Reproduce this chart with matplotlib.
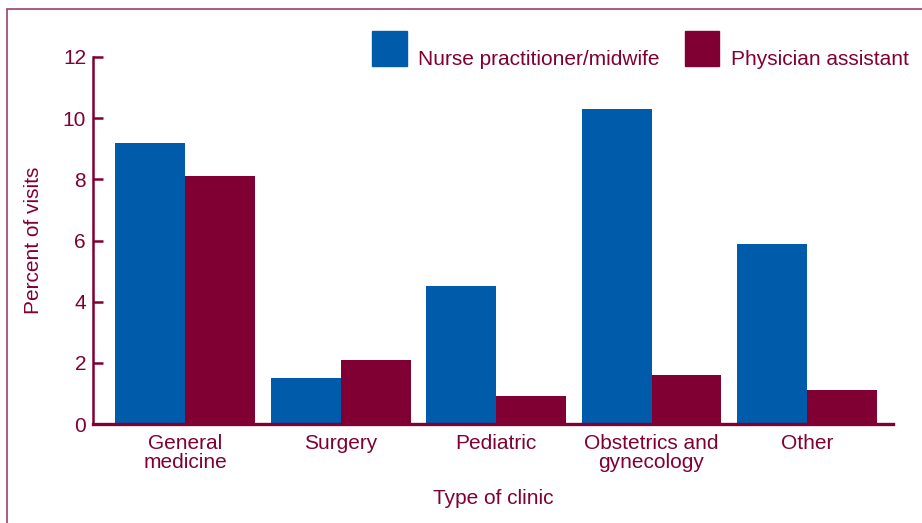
import numpy as np
import matplotlib.pyplot as plt
from matplotlib.patches import Rectangle

clinics = ["General\nmedicine", "Surgery", "Pediatric", "Obstetrics and\ngynecology", "Other"]
nurse = [9.2, 1.5, 4.5, 10.3, 5.9]
physician = [8.1, 2.1, 0.9, 1.6, 1.1]
yticks = [0, 2, 4, 6, 8, 10, 12]

blue = "#005baa"
maroon = "#800033"
frame_col = "#a0406a"

plt.rcParams['font.family'] = ['Liberation Sans', 'DejaVu Sans']
fs = 15

W, H = 922, 523
fig = plt.figure(figsize=(W / 100, H / 100), dpi=100)
ax = fig.add_axes([93 / W, 1 - 424 / H, (893 - 93) / W, (424 - 57) / H])

x = np.arange(len(clinics))
bw = 0.45
ax.bar(x - bw / 2, nurse, bw, color=blue, zorder=2)
ax.bar(x + bw / 2, physician, bw, color=maroon, zorder=2)

ax.set_xlim(-0.592, 4.553)
ax.set_ylim(0, 12)
ax.set_yticks(yticks)
ax.set_xticks(x)
ax.set_xticklabels(clinics, linespacing=1.05)

for s in ["top", "right"]:
    ax.spines[s].set_visible(False)
ax.spines["left"].set_color(maroon)
ax.spines["left"].set_linewidth(1.8)
ax.spines["bottom"].set_color(maroon)
ax.spines["bottom"].set_linewidth(2.4)
ax.spines["bottom"].set_zorder(3)

ax.tick_params(axis="y", direction="in", length=7, width=1.8, color=maroon,
               labelcolor=maroon, labelsize=fs, pad=5)
ax.tick_params(axis="x", length=0, labelcolor=maroon, labelsize=fs, pad=7)

ax.set_ylabel("Percent of visits", color=maroon, fontsize=fs, labelpad=14)
ax.set_xlabel("Type of clinic", color=maroon, fontsize=fs, labelpad=12)

# legend drawn by hand
def legend_item(x0, x1, txt_x, color, label):
    fig.add_artist(Rectangle((x0 / W, 1 - 66 / H), (x1 - x0) / W, 35 / H,
                             transform=fig.transFigure, color=color))
    fig.text(txt_x / W, 1 - 65 / H, label, color=maroon, fontsize=fs,
             ha="left", va="baseline")

legend_item(372, 407, 418, blue, "Nurse practitioner/midwife")
legend_item(685, 719, 731, maroon, "Physician assistant")

# outer frame running off the right and bottom edge
fig.add_artist(Rectangle((7 / W, -0.1), 1.2, 1 - 9 / H + 0.1, transform=fig.transFigure,
                         fill=False, edgecolor=frame_col, linewidth=1.2, clip_on=False))

fig.savefig("out.png", dpi=100)
